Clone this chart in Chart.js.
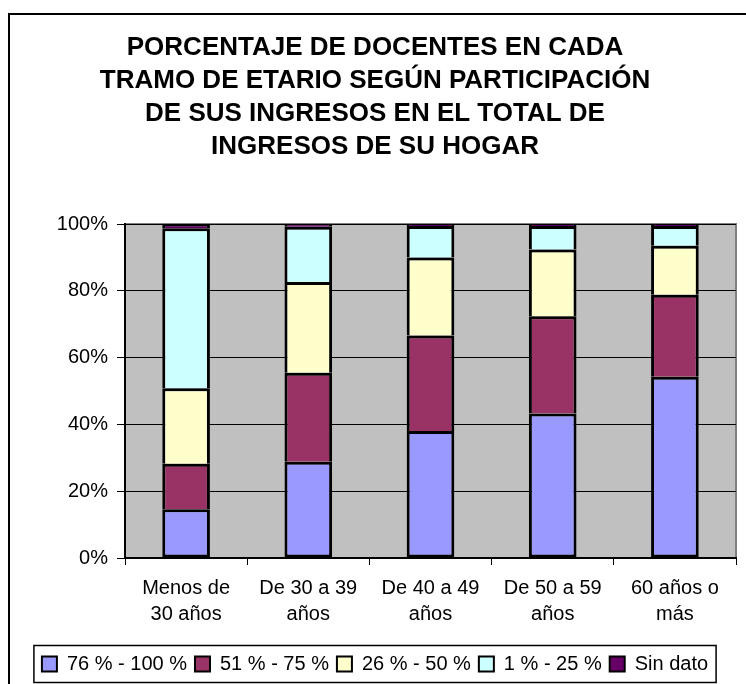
<!DOCTYPE html>
<html>
<head>
<meta charset="utf-8">
<script src="https://cdn.jsdelivr.net/npm/chart.js@4"></script>
<style>
html, body { margin: 0; padding: 0; background: #fff; overflow: hidden; }
</style>
</head>
<body>
<canvas id="grafico" width="746" height="684"></canvas>
<script>
// datos (porcentajes por tramo etario)
const categorias = [['Menos de', '30 años'], ['De 30 a 39', 'años'], ['De 40 a 49', 'años'], ['De 50 a 59', 'años'], ['60 años o', 'más']];
const tramo76a100 = [14.6, 28.8, 38.0, 43.3, 54.3];
const tramo51a75 = [13.6, 26.7, 28.6, 29.1, 24.5];
const tramo26a50 = [22.6, 27.1, 23.4, 20.0, 14.7];
const tramo1a25 = [47.9, 16.6, 9.4, 7.0, 5.9];
const sinDato = [1.3, 0.8, 0.6, 0.6, 0.6];
const nombresSeries = ['76 % - 100 %', '51 % - 75 %', '26 % - 50 %', '1 % - 25 %', 'Sin dato'];
const colores = ['#9999FF', '#993366', '#FFFFCC', '#CCFFFF', '#660066'];
const ticksY = [0, 20, 40, 60, 80, 100];

const fuente = "'Liberation Sans', Arial, sans-serif";

const valores = [tramo76a100, tramo51a75, tramo26a50, tramo1a25, sinDato];
const datasets = valores.map((v, i) => ({
    label: nombresSeries[i],
    data: v,
    backgroundColor: colores[i],
    borderColor: '#000',
    borderWidth: 3,
    borderSkipped: i === 0 ? false : 'start',
    barPercentage: 0.39,
    categoryPercentage: 1
}));

// fondo gris del area, marco exterior y recuadro de la leyenda
const decorado = {
    id: 'decorado',
    beforeDraw(chart) {
        const c = chart.ctx;
        const a = chart.chartArea;
        c.save();
        c.fillStyle = '#fff';
        c.fillRect(0, 0, chart.width, chart.height);
        c.strokeStyle = '#000';
        c.lineWidth = 2;
        c.strokeRect(9, 14, chart.width + 20, chart.height + 20);
        c.fillStyle = '#C0C0C0';
        c.fillRect(a.left, a.top, a.right - a.left, a.bottom - a.top);
        c.strokeStyle = '#808080';
        c.lineWidth = 2;
        c.beginPath();
        c.moveTo(a.left, a.top);
        c.lineTo(a.right, a.top);
        c.lineTo(a.right, a.bottom);
        c.stroke();
        c.restore();
    },
    afterDraw(chart) {
        const lg = chart.legend;
        const hb = lg.legendHitBoxes;
        if (!hb || !hb.length) return;
        const ultimo = hb[hb.length - 1];
        const c = chart.ctx;
        c.save();
        c.strokeStyle = '#000';
        c.lineWidth = 1.5;
        const x0 = hb[0].left - 8;
        const x1 = ultimo.left + ultimo.width + 8;
        const y0 = hb[0].top + hb[0].height / 2 - 18.5;
        c.strokeRect(x0, y0, x1 - x0, 37);
        c.restore();
    }
};

const ctx = document.getElementById('grafico').getContext('2d');
const grafico = new Chart(ctx, {
    type: 'bar',
    data: { labels: categorias, datasets: datasets },
    options: {
        responsive: false,
        animation: false,
        layout: { padding: { left: 14, right: 10, top: 0, bottom: 0 } },
        plugins: {
            title: {
                display: true,
                text: ['PORCENTAJE DE DOCENTES EN CADA', 'TRAMO DE ETARIO SEGÚN PARTICIPACIÓN', 'DE SUS INGRESOS EN EL TOTAL DE', 'INGRESOS DE SU HOGAR'],
                color: '#000',
                font: { family: fuente, size: 26, weight: 'bold', lineHeight: 33 / 26 },
                padding: { top: 31, bottom: 61 }
            },
            legend: {
                position: 'bottom',
                labels: {
                    color: '#000',
                    font: { family: fuente, size: 20 },
                    boxWidth: 15,
                    boxHeight: 15,
                    padding: 8,
                    generateLabels(chart) {
                        return Chart.defaults.plugins.legend.labels.generateLabels(chart).map(l => {
                            l.lineWidth = 2;
                            return l;
                        });
                    }
                }
            },
            tooltip: { enabled: false }
        },
        scales: {
            x: {
                stacked: true,
                grid: { offset: true, drawOnChartArea: false, drawTicks: true, tickLength: 7, color: '#000', lineWidth: 1 },
                border: { display: true, color: '#000', width: 2 },
                ticks: { color: '#000', font: { family: fuente, size: 20, lineHeight: 1.3 }, padding: 10, maxRotation: 0 },
                afterFit(scale) { scale.height = 88; }
            },
            y: {
                stacked: true,
                min: 0,
                max: 100,
                afterBuildTicks(scale) { scale.ticks = ticksY.map(v => ({ value: v })); },
                grid: { color: '#000', lineWidth: 1, drawTicks: true, tickLength: 8 },
                border: { display: true, color: '#000', width: 2 },
                ticks: { color: '#000', font: { family: fuente, size: 20 }, padding: 9, callback: v => v + '%' },
                afterFit(scale) { scale.width = 111; }
            }
        }
    },
    plugins: [decorado]
});
</script>
</body>
</html>
